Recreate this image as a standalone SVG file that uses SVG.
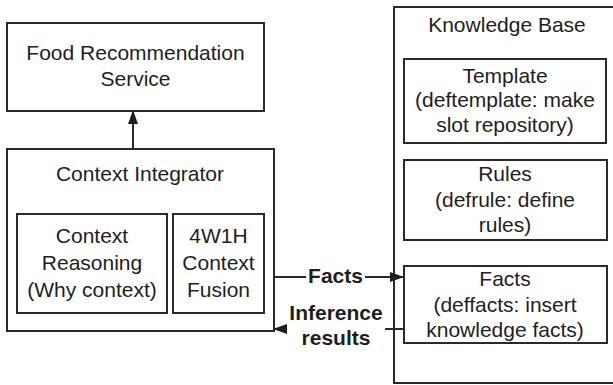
<svg xmlns="http://www.w3.org/2000/svg" width="613" height="385" viewBox="0 0 613 385">
  <style>
    .box { fill: #fff; stroke: #2a2a2a; stroke-width: 2; }
    .lbl { font-family: "Liberation Sans", Arial, sans-serif; font-size: 21px; fill: #1e1e1e; text-anchor: middle; }
    .bold { font-weight: bold; }
    .wire { fill: none; stroke: #2a2a2a; stroke-width: 2; }
  </style>
  <defs>
    <marker id="arrow" viewBox="0 0 14 10" refX="13" refY="5" markerWidth="14" markerHeight="10" markerUnits="userSpaceOnUse" orient="auto">
      <path d="M0,0 L14,5 L0,10 Z" fill="#1e1e1e"/>
    </marker>
  </defs>
  <rect width="613" height="385" fill="#fff"/>

  <!-- Knowledge base container (runs off the right edge) -->
  <g id="knowledge-base">
    <rect class="box" x="394" y="7" width="225" height="376"/>
    <text class="lbl" x="507" y="32">Knowledge Base</text>
  </g>
  <g id="template">
    <rect class="box" x="404" y="59" width="202" height="84"/>
    <text class="lbl" x="505" y="83">Template</text>
    <text class="lbl" x="505" y="107">(deftemplate: make</text>
    <text class="lbl" x="505" y="132">slot repository)</text>
  </g>
  <g id="rules">
    <rect class="box" x="404" y="160" width="203" height="80"/>
    <text class="lbl" x="505" y="181">Rules</text>
    <text class="lbl" x="505" y="207">(defrule: define</text>
    <text class="lbl" x="505" y="232">rules)</text>
  </g>
  <g id="facts">
    <rect class="box" x="404" y="266" width="203" height="77"/>
    <text class="lbl" x="505" y="286">Facts</text>
    <text class="lbl" x="505" y="312">(deffacts: insert</text>
    <text class="lbl" x="505" y="337">knowledge facts)</text>
  </g>

  <g id="food-recommendation-service">
    <rect class="box" x="7" y="23" width="257" height="88"/>
    <text class="lbl" x="135.5" y="60">Food Recommendation</text>
    <text class="lbl" x="135.5" y="86">Service</text>
  </g>

  <g id="context-integrator">
    <rect class="box" x="7" y="149" width="267" height="182"/>
    <text class="lbl" x="140" y="181">Context Integrator</text>
  </g>
  <g id="context-reasoning">
    <rect class="box" x="17" y="214" width="150" height="99"/>
    <text class="lbl" x="92" y="243">Context</text>
    <text class="lbl" x="92" y="270">Reasoning</text>
    <text class="lbl" x="92" y="297">(Why context)</text>
  </g>
  <g id="context-fusion">
    <rect class="box" x="173" y="214" width="91" height="99"/>
    <text class="lbl" x="218.5" y="243">4W1H</text>
    <text class="lbl" x="218.5" y="270">Context</text>
    <text class="lbl" x="218.5" y="297">Fusion</text>
  </g>

  <g id="connectors">
    <line class="wire" x1="133" y1="149" x2="133" y2="111" marker-end="url(#arrow)"/>
    <line class="wire" x1="274" y1="277" x2="403" y2="277" marker-end="url(#arrow)"/>
    <line class="wire" x1="404" y1="329" x2="274" y2="329" marker-end="url(#arrow)"/>
    <rect x="306" y="264" width="59" height="24" fill="#fff"/>
    <text class="lbl bold" x="335.5" y="283">Facts</text>
    <rect x="287" y="303" width="98" height="46" fill="#fff"/>
    <text class="lbl bold" x="336" y="320">Inference</text>
    <text class="lbl bold" x="336" y="345">results</text>
  </g>
</svg>
